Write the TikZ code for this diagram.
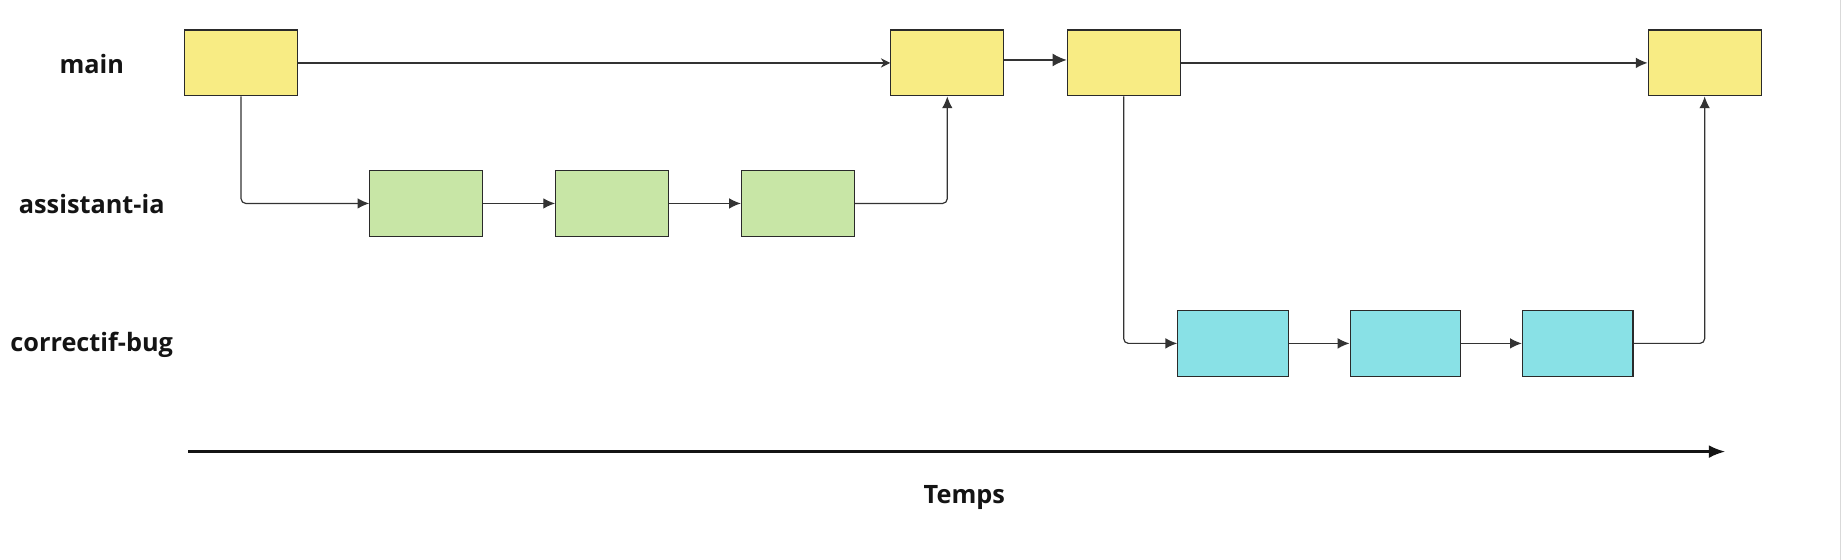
\documentclass[tikz,border=0pt]{standalone}
\usepackage{fontspec}
\setmainfont{Open Sans}
\usetikzlibrary{arrows.meta}
\definecolor{ymain}{HTML}{F8EC84}
\definecolor{gassist}{HTML}{C8E6A6}
\definecolor{cfix}{HTML}{89E1E6}
\definecolor{edge}{HTML}{2A2A2A}
\begin{document}
\begin{tikzpicture}[x=1pt,y=-1pt,
  commit/.style={draw=edge,line width=1pt,minimum width=96pt,minimum height=56pt,inner sep=0pt},
  lbl/.style={font=\bfseries\fontsize{21.5}{25}\selectfont,text=black!92},
  conn/.style={draw=black!80,line width=1pt,-{Latex[length=10pt,width=9pt]},rounded corners=4pt}]
\useasboundingbox (0,0) rectangle (1568,476);
\fill[white] (0,0) rectangle (1568,476);
\draw[black!15,line width=1pt] (1565,0) -- (1565,476);
% labels
\node[lbl] (lmain) at (78,54.5) {main};
\node[lbl] (lassist) at (78,173.5) {assistant-ia};
\node[lbl] (lfix) at (78,293.5) {correctif-bug};
\node[lbl] (ltemps) at (820,423) {Temps};
% main commits
\node[commit,fill=ymain] (m1) at (205,53.5) {};
\node[commit,fill=ymain] (m2) at (805.5,53.5) {};
\node[commit,fill=ymain] (m3) at (955.5,53.5) {};
\node[commit,fill=ymain] (m4) at (1449.5,53.5) {};
% assistant-ia commits
\node[commit,fill=gassist] (g1) at (362.5,173) {};
\node[commit,fill=gassist] (g2) at (520.5,173) {};
\node[commit,fill=gassist] (g3) at (678.5,173) {};
% correctif-bug commits
\node[commit,fill=cfix,minimum width=94pt] (c1) at (1048.5,292) {};
\node[commit,fill=cfix,minimum width=94pt] (c2) at (1195,292) {};
\node[commit,fill=cfix,minimum width=94pt] (c3) at (1341.5,292) {};
% connectors
\draw[conn,-{Stealth[length=8pt,width=8pt]}] (m1.east) -- (m2.west);
\draw[conn,-{Latex[length=12pt,width=11pt]}] ([yshift=2.5pt]m2.east) -- ([yshift=2.5pt]m3.west);
\draw[conn] (m3.east) -- (m4.west);
\draw[conn] (m1.south) |- (g1.west);
\draw[conn] (g1.east) -- (g2.west);
\draw[conn] (g2.east) -- (g3.west);
\draw[conn] (g3.east) -| (m2.south);
\draw[conn] (m3.south) |- (c1.west);
\draw[conn] (c1.east) -- (c2.west);
\draw[conn] (c2.east) -- (c3.west);
\draw[conn] (c3.east) -| (m4.south);
% time axis
\coordinate (t0) at (160,384);
\coordinate (t1) at (1467,384);
\draw[black!92,line width=2pt,-{Latex[length=14pt,width=11pt]}] (t0) -- (t1);
\end{tikzpicture}
\end{document}
